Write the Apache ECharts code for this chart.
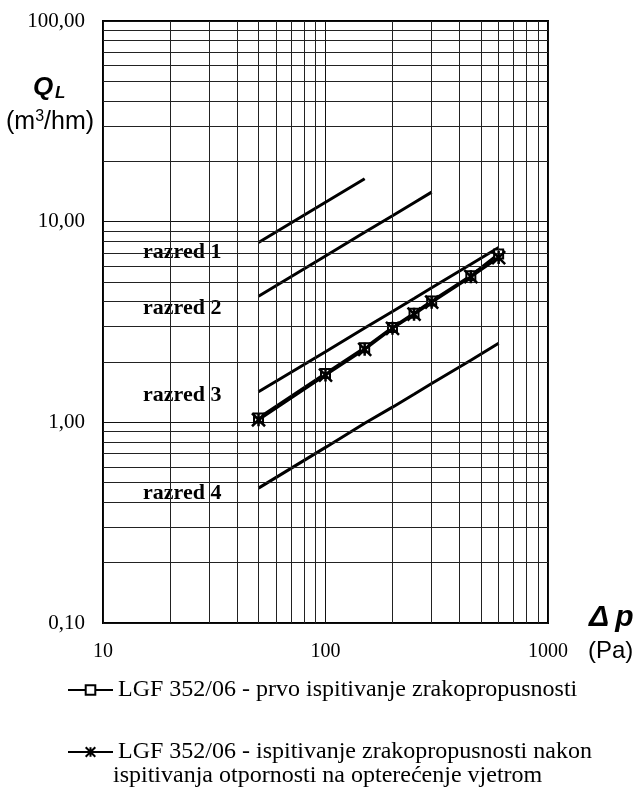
<!DOCTYPE html>
<html><head><meta charset="utf-8">
<script src="https://cdn.jsdelivr.net/npm/echarts@6/dist/echarts.min.js"></script>
<style>html,body{margin:0;padding:0;background:#fff}#c{width:637px;height:792px}</style>
</head><body><div id="c"></div>
<script>
// ---- data ----
const pressures = [50, 100, 150, 200, 250, 300, 450, 600];
const razred1 = [7.87, 12.50, 16.38];
const razred2 = [4.25, 6.75, 8.85, 10.71, 12.43, 14.04];
const razred3 = [1.42, 2.25, 2.95, 3.57, 4.14, 4.68, 6.13, 7.43];
const razred4 = [0.47, 0.75, 0.99, 1.19, 1.38, 1.56, 2.04, 2.48];
const prvoIspitivanje = [1.05, 1.75, 2.35, 2.97, 3.50, 4.02, 5.38, 6.90];
const nakonVjetra = [1.03, 1.72, 2.31, 2.94, 3.46, 3.97, 5.32, 6.62];
const razredLabels = ['razred 1', 'razred 2', 'razred 3', 'razred 4'];
const seriesNames = ['LGF 352/06 - prvo ispitivanje zrakopropusnosti',
  'LGF 352/06 - ispitivanje zrakopropusnosti nakon ispitivanja otpornosti na opterećenje vjetrom'];
const legendLine2 = ['LGF 352/06 - ispitivanje zrakopropusnosti nakon', 'ispitivanja otpornosti na opterećenje vjetrom'];
const xTickValues = [10, 100, 1000];
const xTickLabels = ['10', '100', '1000'];
const yTickValues = [0.1, 1, 10, 100];
const yTickLabels = ['0,10', '1,00', '10,00', '100,00'];
const xMinorGrid = [20, 30, 40, 50, 60, 70, 80, 90, 200, 300, 400, 500, 600, 700, 800, 900];
const yMinorGrid = [0.2, 0.3, 0.4, 0.5, 0.6, 0.7, 0.8, 0.9, 2, 3, 4, 5, 6, 7, 8, 9, 20, 30, 40, 50, 60, 70, 80, 90];

function pairs(arr) { return arr.map((v, i) => [pressures[i], v]); }
function lbl(vals, labels) {
  return function (v) {
    for (let i = 0; i < vals.length; i++) if (Math.abs(Math.log10(v) - Math.log10(vals[i])) < 1e-6) return labels[i];
    return '';
  };
}

const chart = echarts.init(document.getElementById('c'), null, { renderer: 'canvas' });
const serif = 'Liberation Serif';
const classLine = { color: '#000', width: 3 };

const classSeries = [razred1, razred2, razred3, razred4].map((arr, i) => ({
  name: razredLabels[i], type: 'line', data: pairs(arr), symbol: 'none',
  lineStyle: classLine, itemStyle: { color: '#000' }, z: 3, silent: true
}));
const razredY = [252, 308, 395, 493];
const legendText = { fontFamily: serif, fontSize: 24, color: '#000', lineHeight: 24 };

const option = {
  animation: false,
  backgroundColor: '#fff',
  grid: { left: 103, right: 89, top: 21, bottom: 169, show: true, borderColor: '#000', borderWidth: 2, containLabel: false },
  xAxis: {
    type: 'log', logBase: 10, min: 10, max: 1000,
    axisLine: { show: false }, axisTick: { show: false },
    axisLabel: { fontFamily: serif, fontSize: 20, color: '#000', margin: 19, formatter: lbl(xTickValues, xTickLabels) },
    splitLine: { show: true, lineStyle: { color: '#111', width: 1 } }
  },
  yAxis: {
    type: 'log', logBase: 10, min: 0.1, max: 100,
    axisLine: { show: false }, axisTick: { show: false },
    axisLabel: { fontFamily: serif, fontSize: 21, color: '#000', margin: 18, formatter: lbl(yTickValues, yTickLabels) },
    splitLine: { show: true, lineStyle: { color: '#111', width: 1 } }
  },
  legend: [
    { data: [seriesNames[0]], left: 67, top: 678, padding: 0, itemWidth: 45, itemHeight: 12, itemGap: 0,
      textStyle: legendText, selectedMode: false },
    { data: [seriesNames[1]], left: 67, top: 740, padding: 0, itemWidth: 45, itemHeight: 12, itemGap: 0,
      formatter: () => legendLine2[0],
      textStyle: legendText, selectedMode: false }
  ],
  graphic: [
    { type: 'text', x: 113, y: 776, style: { text: legendLine2[1], font: '24px "Liberation Serif"', fill: '#000', verticalAlign: 'middle' } },
    { type: 'text', x: 33, y: 88, style: { text: 'Q', font: 'italic bold 26px "Liberation Sans"', fill: '#000', verticalAlign: 'middle' } },
    { type: 'text', x: 55, y: 93, style: { text: 'L', font: 'italic bold 17px "Liberation Sans"', fill: '#000', verticalAlign: 'middle' } },
    { type: 'text', x: 6, y: 122, style: {
        text: '{a|(m}{s|3}{a|/hm)}', verticalAlign: 'middle', fill: '#000',
        rich: { a: { font: '25px "Liberation Sans"', fill: '#000' },
                s: { font: '16px "Liberation Sans"', fill: '#000', padding: [0, 0, 11, 0] } } } },
    { type: 'text', x: 589, y: 618, style: { text: 'Δ\u2009p', font: 'italic bold 30px "Liberation Sans"', fill: '#000', verticalAlign: 'middle' } },
    { type: 'text', x: 588, y: 651, style: { text: '(Pa)', font: '24px "Liberation Sans"', fill: '#000', verticalAlign: 'middle' } },
    ...razredLabels.map((t, i) => ({ type: 'text', x: 143, y: razredY[i],
      style: { text: t, font: 'bold 22px "Liberation Serif"', fill: '#000', verticalAlign: 'middle' } }))
  ],
  series: [
    {
      name: 'grid-minor', type: 'line', data: [], z: 1, silent: true,
      markLine: {
        silent: true, symbol: 'none', label: { show: false }, animation: false,
        lineStyle: { color: '#222', width: 1, type: 'solid' },
        emphasis: { disabled: true },
        data: xMinorGrid.map(v => ({ xAxis: v })).concat(yMinorGrid.map(v => ({ yAxis: v })))
      }
    },
    ...classSeries,
    {
      name: seriesNames[0], type: 'line', data: pairs(prvoIspitivanje), z: 4,
      symbol: 'emptyRect', symbolSize: 9, showAllSymbol: true,
      lineStyle: { color: '#000', width: 3 }, itemStyle: { color: '#000', borderColor: '#000', borderWidth: 2 }
    },
    {
      name: seriesNames[1], type: 'line', data: pairs(nakonVjetra), z: 5,
      symbol: 'path://M0,0L10,10M0,10L10,0M5,0L5,10', symbolSize: 13, showAllSymbol: true,
      lineStyle: { color: '#000', width: 3 }, itemStyle: { color: '#000', borderColor: '#000', borderWidth: 2.5 }
    }
  ]
};
chart.setOption(option);
</script>
</body></html>
